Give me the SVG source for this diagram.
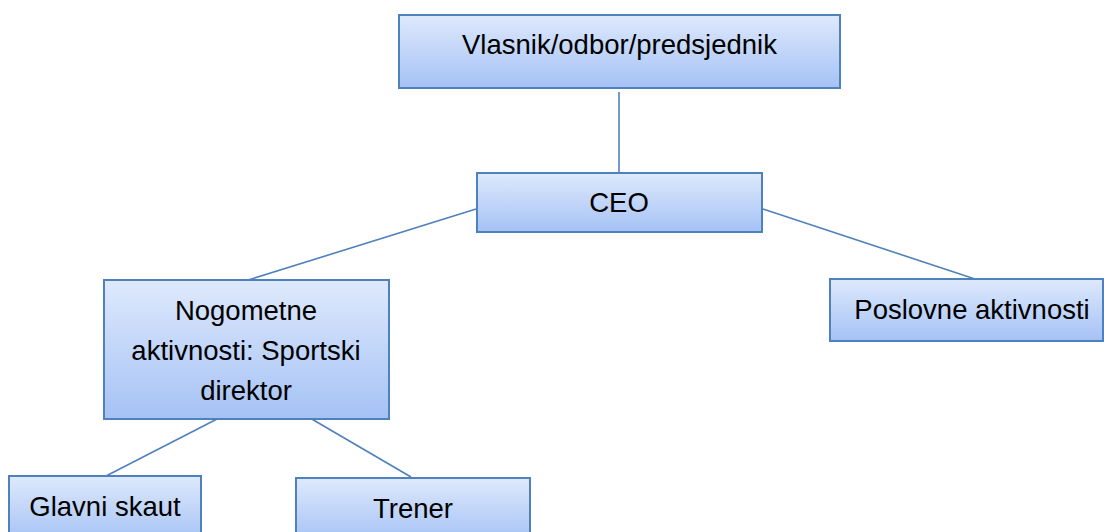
<svg xmlns="http://www.w3.org/2000/svg" width="1104" height="532" viewBox="0 0 1104 532">
  <defs>
    <linearGradient id="g" x1="0" y1="0" x2="0" y2="1">
      <stop offset="0" stop-color="#dee9fc"/>
      <stop offset="1" stop-color="#a5c2f5"/>
    </linearGradient>
    <style>
      .box { fill: url(#g); stroke: #4f81bd; stroke-width: 2; }
      .lbl { font-family: "Liberation Sans", Arial, sans-serif; font-size: 27.5px; fill: #000; text-anchor: middle; }
      .conn line { stroke: #4f81bd; stroke-width: 1.6; }
    </style>
  </defs>
  <rect width="1104" height="532" fill="#ffffff"/>
  <g id="connectors" class="conn">
    <line x1="619" y1="92" x2="619" y2="172"/>
    <line x1="476" y1="209" x2="245" y2="281"/>
    <line x1="763" y1="209" x2="975" y2="279"/>
    <line x1="219" y1="418" x2="106" y2="476"/>
    <line x1="310" y1="418" x2="411" y2="477"/>
  </g>
  <g id="vlasnik">
    <rect class="box" x="399" y="15" width="441" height="73"/>
    <text class="lbl" x="619.5" y="54">Vlasnik/odbor/predsjednik</text>
  </g>
  <g id="ceo">
    <rect class="box" x="477" y="173" width="285" height="59"/>
    <text class="lbl" x="619" y="212">CEO</text>
  </g>
  <g id="nogometne">
    <rect class="box" x="104" y="280" width="285" height="139"/>
    <text class="lbl" x="246" y="320">Nogometne</text>
    <text class="lbl" x="246" y="360">aktivnosti: Sportski</text>
    <text class="lbl" x="246" y="400">direktor</text>
  </g>
  <g id="poslovne">
    <rect class="box" x="830" y="279" width="273" height="62"/>
    <text class="lbl" x="972" y="319">Poslovne aktivnosti</text>
  </g>
  <g id="glavni">
    <rect class="box" x="9" y="476" width="192" height="66"/>
    <text class="lbl" x="105" y="516">Glavni skaut</text>
  </g>
  <g id="trener">
    <rect class="box" x="296" y="478" width="234" height="64"/>
    <text class="lbl" x="413" y="518">Trener</text>
  </g>
</svg>
